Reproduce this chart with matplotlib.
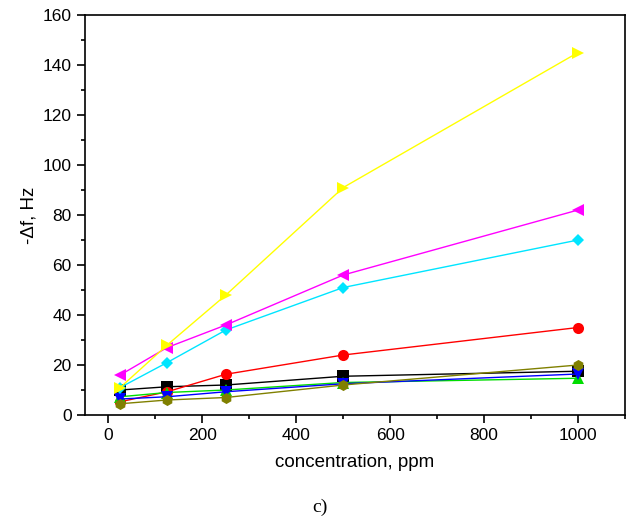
import matplotlib
matplotlib.use("Agg")
import matplotlib.pyplot as plt
from matplotlib.ticker import MultipleLocator

x = [25, 125, 250, 500, 1000]
yellow = [11, 28, 48, 91, 145]
magenta = [16, 27, 36, 56, 82]
cyan = [11, 21, 34, 51, 70]
red = [5.3, 9.3, 16.3, 24, 35]
black = [10, 11.3, 12, 15.5, 17.5]
green = [7.3, 9, 10, 13, 14.7]
blue = [6.4, 7.3, 9.3, 12.5, 16.4]
olive = [4.5, 6, 7, 12, 20]

plt.rcParams['font.family'] = ['Liberation Sans', 'DejaVu Sans']
fig = plt.figure(figsize=(6.29, 5.19), dpi=100)
ax = fig.add_axes([85/629, 1-415/519, (625-85)/629, 400/519])

series = [
    (black, 'black', 's'),
    (red, 'red', 'o'),
    (green, '#00dd00', '^'),
    (blue, 'blue', 'v'),
    (cyan, '#00e5ff', 'D'),
    (magenta, '#ff00ff', '<'),
    (yellow, '#ffff00', '>'),
    (olive, '#808000', 'h'),
]
for ys, c, m in series:
    ms = 6.5 if m == 'D' else 8
    ax.plot(x, ys, color=c, marker=m, markersize=ms, linewidth=1, markeredgewidth=0)

ax.set_xlim(-50, 1100)
ax.set_ylim(0, 160)
ax.xaxis.set_major_locator(MultipleLocator(200))
ax.xaxis.set_minor_locator(MultipleLocator(100))
ax.yaxis.set_major_locator(MultipleLocator(20))
ax.yaxis.set_minor_locator(MultipleLocator(10))
ax.tick_params(which='both', direction='out', labelsize=12.5, width=1.2)
ax.tick_params(which='major', length=6)
ax.tick_params(which='minor', length=3)
for s in ax.spines.values():
    s.set_linewidth(1.2)
ax.set_xlabel('concentration, ppm', fontsize=13.5, labelpad=8)
ax.set_ylabel('-\u0394f, Hz', fontsize=13.5, labelpad=4)
fig.text(320/629, 1-507/519, 'c)', ha='center', va='center', fontsize=14, family='Liberation Serif')
fig.savefig('out.png', dpi=100)
